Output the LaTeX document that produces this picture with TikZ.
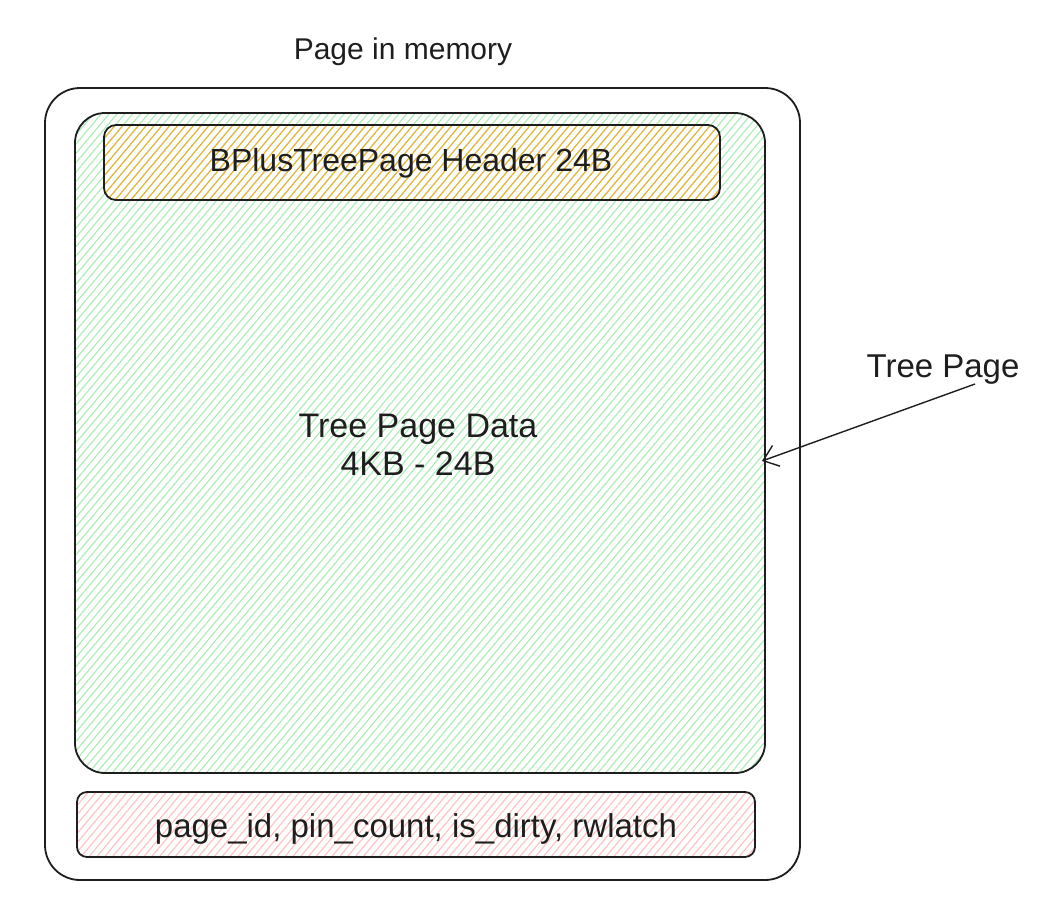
\documentclass[tikz,border=0pt]{standalone}
\usepackage{fontspec}
\setmainfont{Liberation Sans}
\usetikzlibrary{patterns.meta,arrows.meta}
\definecolor{hgreen}{HTML}{A8EDB3}
\definecolor{horange}{HTML}{F0B132}
\definecolor{hred}{HTML}{FFC0C0}
\definecolor{ink}{HTML}{1E1E1E}
\tikzset{
  sketch/.style={draw=ink, line width=1.8pt},
  hatch/.style={pattern={Lines[angle=50,distance=6pt,line width=1.1pt]}, pattern color=#1},
  lbl/.style={font=\fontsize{#1}{38}\selectfont, text=ink, align=center},
  lbl/.default=33,
}
\begin{document}
\begin{tikzpicture}[x=1pt,y=-1pt]
\useasboundingbox (0,0) rectangle (1041,916);
% outer page
\draw[sketch, fill=white, rounded corners=35pt] (45,88) rectangle (800,880);
% tree page (green)
\path[hatch=hgreen, rounded corners=30pt] (75,113) rectangle (765,773);
\draw[sketch, rounded corners=30pt] (75,113) rectangle (765,773);
\coordinate (treeedge) at (762,461);
% header
\path[hatch=horange, rounded corners=12pt] (104,125) rectangle (720,200);
\draw[sketch, rounded corners=12pt] (104,125) rectangle (720,200);
\node[lbl=32] (header) at (411,163) {BPlusTreePage Header 24B};
% data label
\node[lbl=34] (data) at (418,445) {Tree Page Data\\4KB - 24B};
% bottom meta
\path[hatch=hred, rounded corners=10pt] (77,792) rectangle (755,857);
\draw[sketch, rounded corners=10pt] (77,792) rectangle (755,857);
\node[lbl=33] (meta) at (416,829) {page\_id, pin\_count, is\_dirty, rwlatch};
% titles
\node[lbl=30] (title) at (403,52) {Page in memory};
\node[lbl=33] (treepage) at (943,370) {Tree Page};
\coordinate (arrstart) at (975,384);
\draw[draw=ink, line width=1.4pt, -{Straight Barb[length=14pt,width=22pt,line width=1.4pt]}] (arrstart) -- (treeedge);
\end{tikzpicture}
\end{document}
